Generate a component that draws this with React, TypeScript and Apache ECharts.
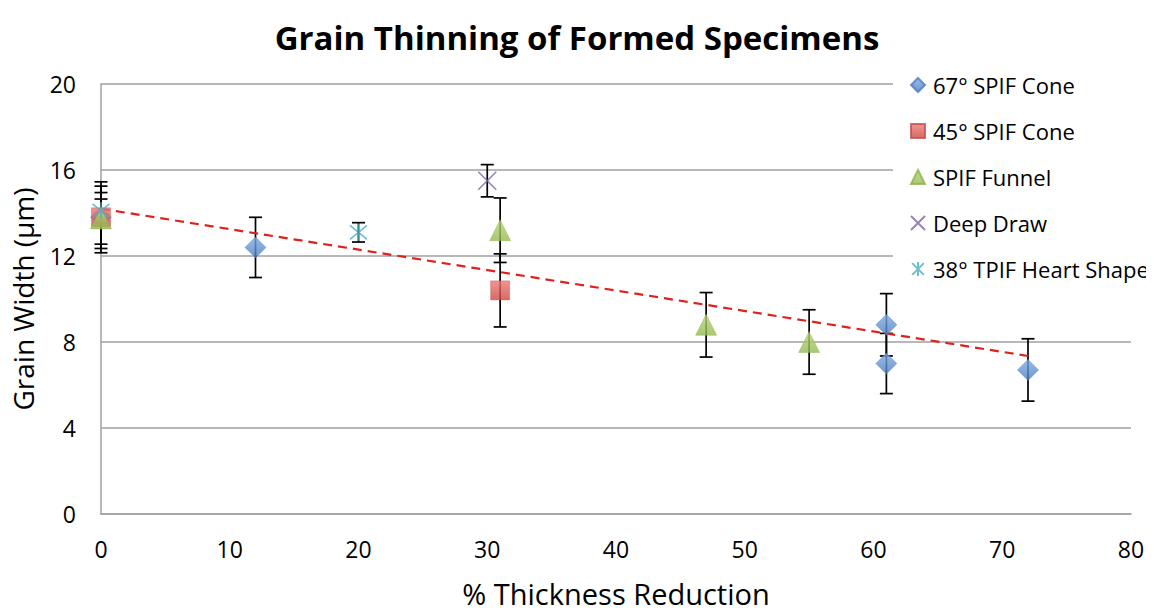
import React, { useEffect, useRef } from "react";
import * as echarts from "echarts";

// Measured grain width (µm) vs. % thickness reduction, with ± error
const cone67X = [0, 12, 61, 61, 72];
const cone67Y = [13.8, 12.4, 8.8, 7.0, 6.7];
const cone67Err = [1.45, 1.4, 1.45, 1.4, 1.45];

const cone45X = [0, 31];
const cone45Y = [13.8, 10.4];
const cone45Err = [1.65, 1.7];

const funnelX = [0, 31, 47, 55];
const funnelY = [13.75, 13.2, 8.8, 8.0];
const funnelErr = [1.2, 1.5, 1.5, 1.5];

const deepX = [30];
const deepY = [15.5];
const deepErr = [0.75];

const heartX = [0, 20];
const heartY = [14.1, 13.1];
const heartErr = [0.55, 0.45];

// Linear trend line end points
const trendX = [0, 72];
const trendY = [14.2, 7.35];

const xTicks = { min: 0, max: 80, interval: 10 };
const yTicks = { min: 0, max: 20, interval: 4 };

const FONT = "'Open Sans', 'DejaVu Sans', sans-serif";

const ICON_X = "path://M0,0L10,10M10,0L0,10";
const ICON_AST = "path://M0,0L10,10M10,0L0,10M5,-1L5,11";

function pts(xs: number[], ys: number[]) {
  return xs.map((x, i) => [x, ys[i]]);
}

function errData(xs: number[], ys: number[], es: number[]) {
  return xs.map((x, i) => [x, ys[i] - es[i], ys[i] + es[i]]);
}

function errorSeries(name: string, data: number[][]) {
  return {
    type: "custom",
    name: name + " err",
    z: 1,
    silent: true,
    data,
    renderItem: (params: any, api: any) => {
      const x = api.value(0);
      const lo = api.coord([x, api.value(1)]);
      const hi = api.coord([x, api.value(2)]);
      const cap = 6.5;
      const style = { stroke: "#000", lineWidth: 1.7 };
      return {
        type: "group",
        children: [
          { type: "line", shape: { x1: lo[0], y1: lo[1], x2: hi[0], y2: hi[1] }, style },
          { type: "line", shape: { x1: lo[0] - cap, y1: lo[1], x2: lo[0] + cap, y2: lo[1] }, style },
          { type: "line", shape: { x1: hi[0] - cap, y1: hi[1], x2: hi[0] + cap, y2: hi[1] }, style },
        ],
      };
    },
  };
}

function grad(top: string, bottom: string) {
  return new echarts.graphic.LinearGradient(0, 0, 0, 1, [
    { offset: 0, color: top },
    { offset: 1, color: bottom },
  ]);
}

export default function App() {
  const ref = useRef<HTMLDivElement>(null);

  useEffect(() => {
    if (!ref.current) return;
    const chart = echarts.init(ref.current, null, { renderer: "svg" });

    const option: any = {
      animation: false,
      backgroundColor: "#fff",
      title: {
        text: "Grain Thinning of Formed Specimens",
        left: "center",
        top: 16,
        textStyle: { fontFamily: FONT, fontSize: 33, fontWeight: "bold", color: "#000" },
      },
      grid: {
        left: 101,
        right: 23,
        top: 84,
        bottom: 99,
        outerBoundsMode: "none",
      },
      legend: {
        orient: "vertical",
        left: 893,
        top: 68,
        backgroundColor: "#fff",
        padding: [6, 0, 6, 17],
        itemWidth: 14,
        itemHeight: 14,
        itemGap: 24,
        textStyle: { fontFamily: FONT, fontSize: 22, color: "#000", padding: [0, 0, 0, 3] },
        data: [
          { name: "67° SPIF Cone", icon: "diamond" },
          { name: "45° SPIF Cone", icon: "rect" },
          { name: "SPIF Funnel", icon: "triangle" },
          { name: "Deep Draw", icon: ICON_X },
          { name: "38° TPIF Heart Shape", icon: ICON_AST },
        ],
      },
      xAxis: {
        type: "value",
        ...xTicks,
        name: "% Thickness Reduction",
        nameLocation: "middle",
        nameGap: 65,
        nameTextStyle: { fontFamily: FONT, fontSize: 29, color: "#000" },
        axisLine: { show: true, lineStyle: { color: "#a0a0a0", width: 1.5 } },
        axisTick: { show: false },
        splitLine: { show: false },
        axisLabel: { fontFamily: FONT, fontSize: 23, color: "#000", margin: 23 },
      },
      yAxis: {
        type: "value",
        ...yTicks,
        name: "Grain Width (µm)",
        nameLocation: "middle",
        nameGap: 64,
        nameTextStyle: { fontFamily: FONT, fontSize: 28, color: "#000" },
        axisLine: { show: true, lineStyle: { color: "#a0a0a0", width: 1.5 } },
        axisTick: { show: false },
        splitLine: { show: true, lineStyle: { color: "#a0a0a0", width: 1.5 } },
        axisLabel: { fontFamily: FONT, fontSize: 23, color: "#000", margin: 25 },
      },
      series: [
        errorSeries("67° SPIF Cone", errData(cone67X, cone67Y, cone67Err)),
        errorSeries("45° SPIF Cone", errData(cone45X, cone45Y, cone45Err)),
        errorSeries("SPIF Funnel", errData(funnelX, funnelY, funnelErr)),
        errorSeries("Deep Draw", errData(deepX, deepY, deepErr)),
        errorSeries("38° TPIF Heart Shape", errData(heartX, heartY, heartErr)),
        {
          type: "line",
          name: "trend",
          data: pts(trendX, trendY),
          showSymbol: false,
          symbol: "none",
          z: 2,
          lineStyle: { color: "#e0201b", width: 2.2, type: [9, 6] },
        },
        {
          type: "scatter",
          name: "67° SPIF Cone",
          data: pts(cone67X, cone67Y),
          symbol: "diamond",
          symbolSize: [21, 21],
          z: 3,
          itemStyle: { color: grad("#7faae3", "#4a7cc0"), borderColor: "#4a7cc0", borderWidth: 0.5 },
        },
        {
          type: "scatter",
          name: "45° SPIF Cone",
          data: pts(cone45X, cone45Y),
          symbol: "rect",
          symbolSize: 19,
          z: 3,
          itemStyle: { color: grad("#ee7a75", "#cc4540"), borderColor: "#c0504d", borderWidth: 0.5 },
        },
        {
          type: "scatter",
          name: "SPIF Funnel",
          data: pts(funnelX, funnelY),
          symbol: "triangle",
          symbolSize: [21, 21],
          z: 3,
          itemStyle: { color: grad("#b8d975", "#92b850"), borderColor: "#8fb24c", borderWidth: 0.5 },
        },
        {
          type: "scatter",
          name: "Deep Draw",
          data: pts(deepX, deepY),
          symbol: ICON_X,
          symbolSize: 18,
          z: 3,
          itemStyle: { color: "rgba(0,0,0,0)", borderColor: "#8064a2", borderWidth: 1.6 },
        },
        {
          type: "scatter",
          name: "38° TPIF Heart Shape",
          data: pts(heartX, heartY),
          symbol: ICON_AST,
          symbolSize: 17,
          z: 4,
          itemStyle: { color: "rgba(0,0,0,0)", borderColor: "#4bacc6", borderWidth: 1.6 },
        },
      ],
    };

    chart.setOption(option);
    return () => chart.dispose();
  }, []);

  return <div ref={ref} style={{ width: 1154, height: 613, margin: -8 }} />;
}
